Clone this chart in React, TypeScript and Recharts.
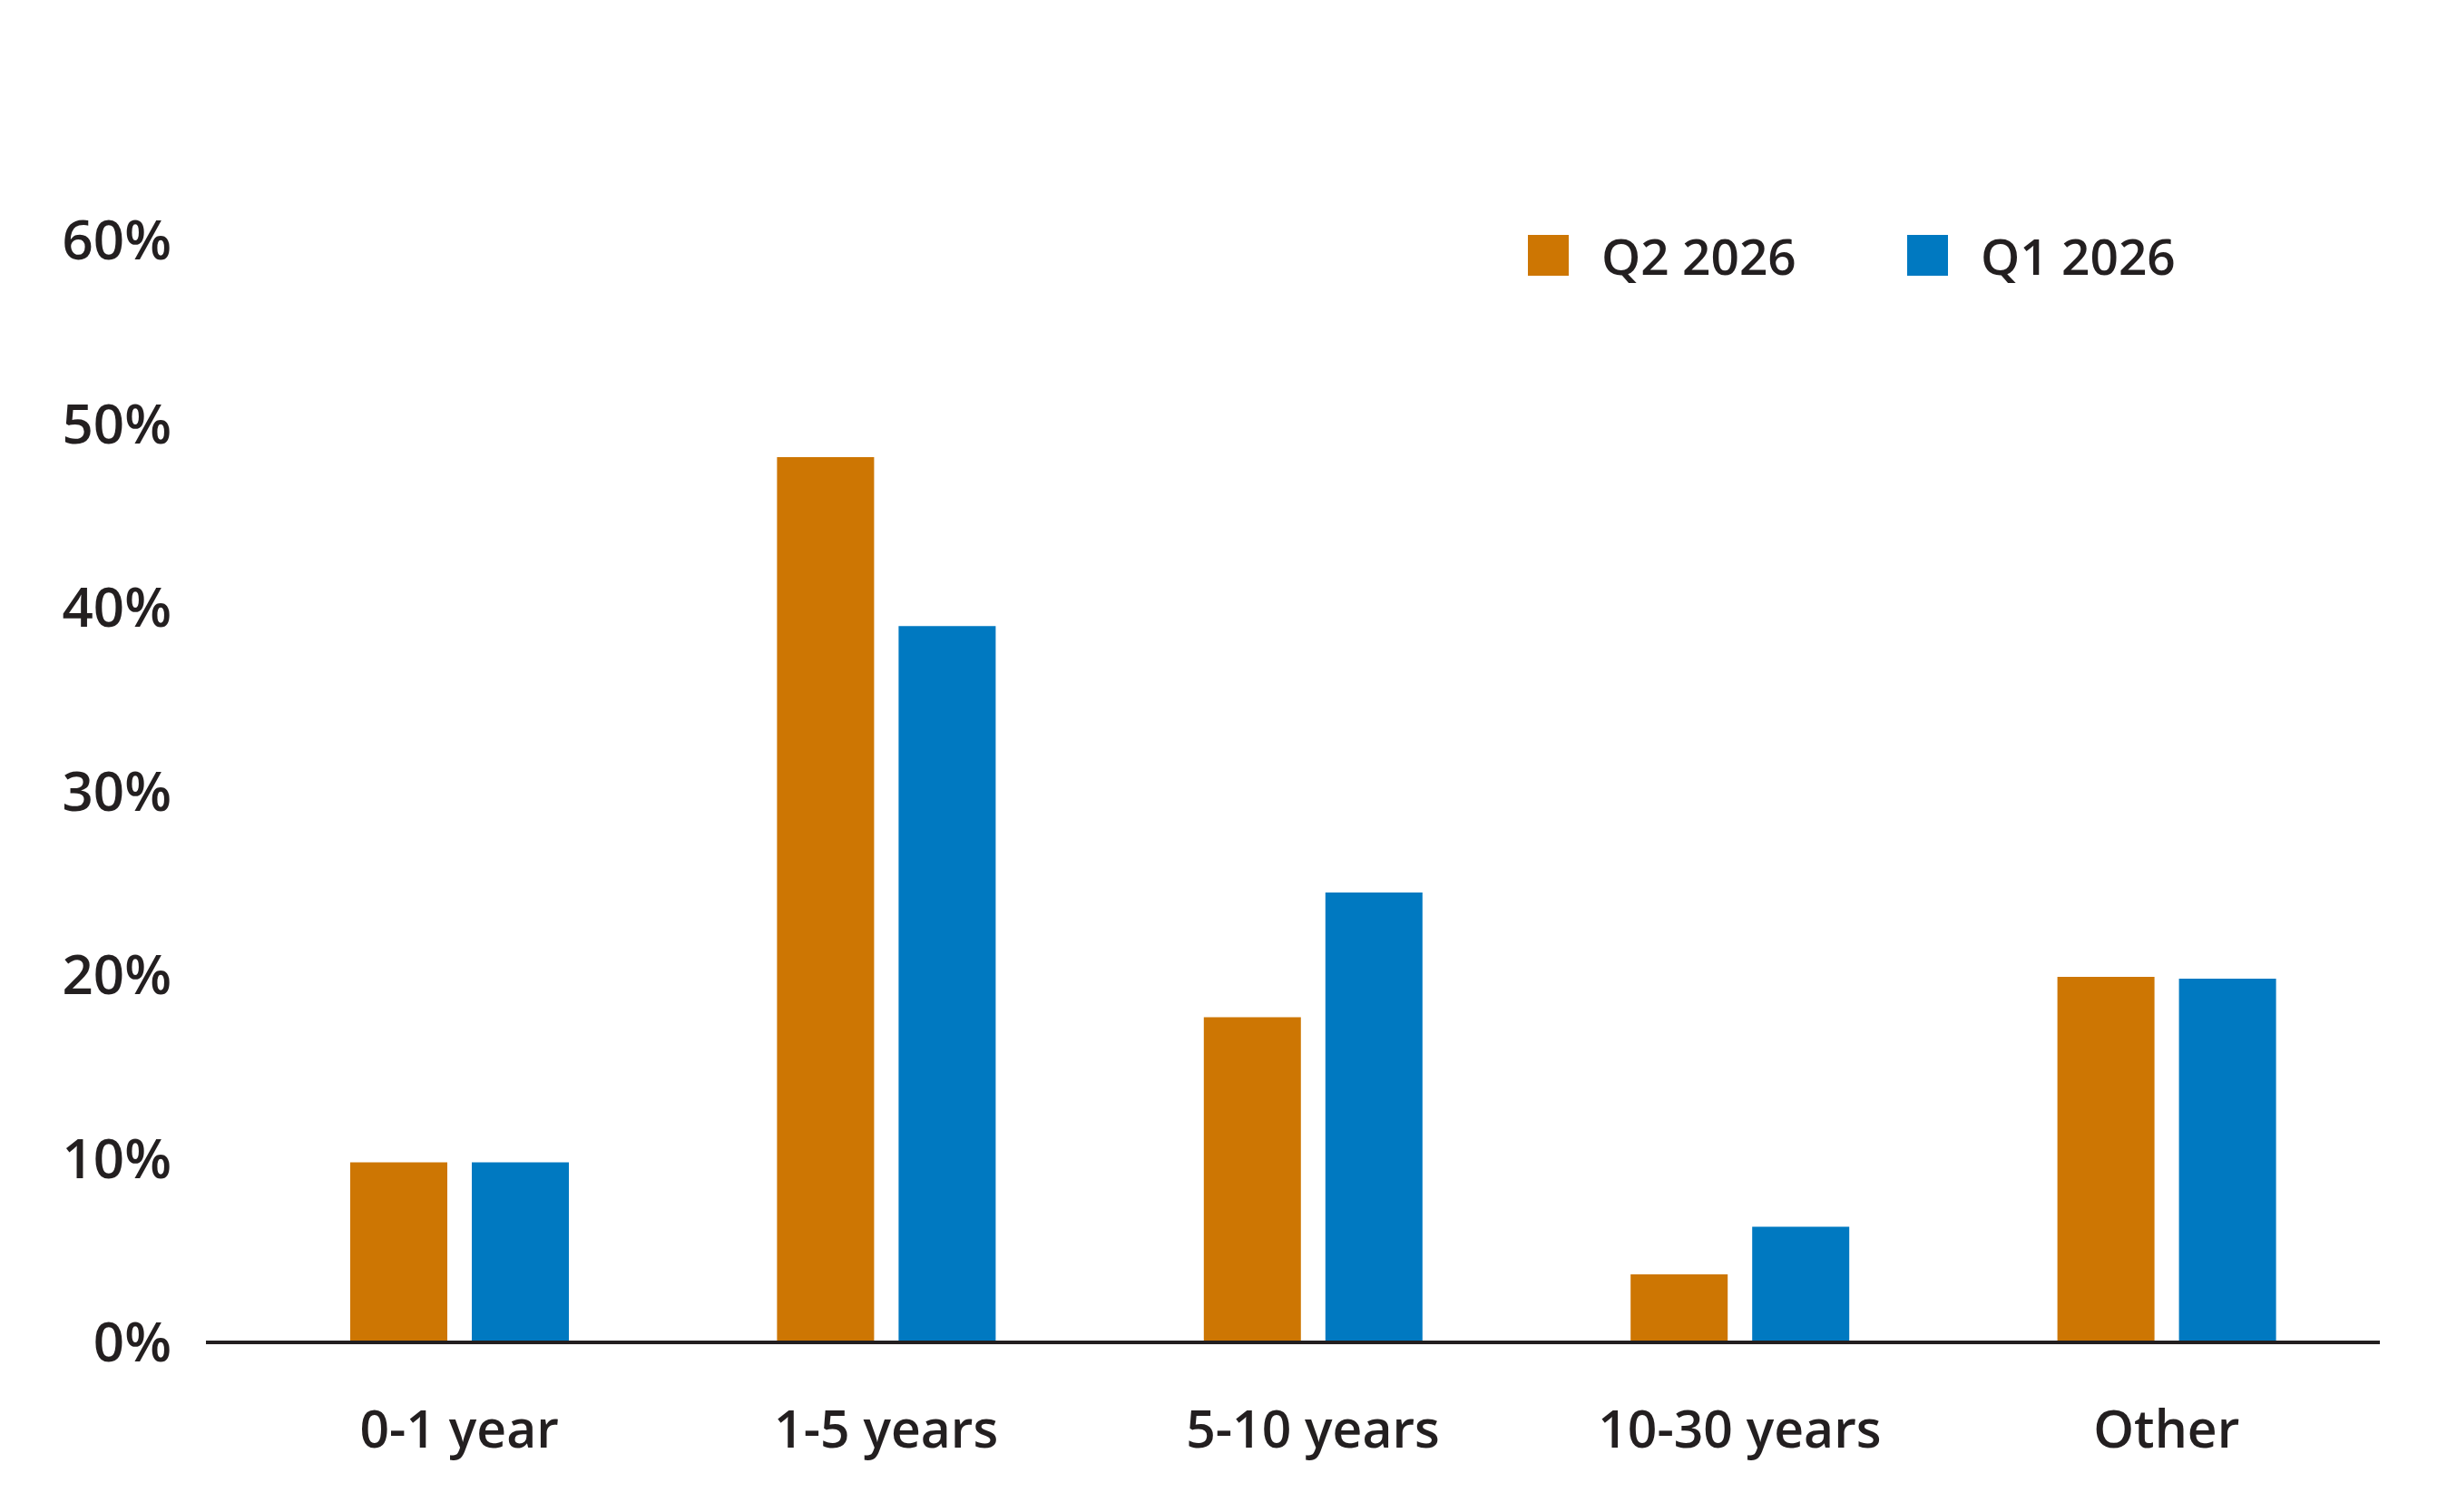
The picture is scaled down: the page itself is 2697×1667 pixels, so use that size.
import { Bar, BarChart, XAxis, YAxis, Legend } from "recharts"

const categories = ["0-1 year", "1-5 years", "5-10 years", "10-30 years", "Other"]
const q2Values = [9.8, 48.2, 17.7, 3.7, 19.9]
const q1Values = [9.8, 39.0, 24.5, 6.3, 19.8]
const yTicks = [0, 10, 20, 30, 40, 50, 60]

const series = [
  { key: "q2", name: "Q2 2026", color: "#CD7603" },
  { key: "q1", name: "Q1 2026", color: "#0079C1" },
]

const data = categories.map((name, i) => ({
  name,
  q2: q2Values[i],
  q1: q1Values[i],
}))

const FONT = "'Open Sans', 'Noto Sans', sans-serif"
const INK = "#231F20"

function LegendContent() {
  return (
    <div style={{ display: "flex", alignItems: "center", fontFamily: FONT }}>
      {series.map((s, i) => (
        <div
          key={s.key}
          style={{
            display: "flex",
            alignItems: "center",
            width: i === 0 ? 418 : "auto",
          }}
        >
          <div style={{ width: 45, height: 45, background: s.color, marginRight: 36 }} />
          <span style={{ fontSize: 55, fontWeight: 600, color: INK, lineHeight: 1, whiteSpace: "nowrap" }}>
            {s.name}
          </span>
        </div>
      ))}
    </div>
  )
}

export default function App() {
  return (
    <div style={{ margin: -8 }}>
      <BarChart
        width={2697}
        height={1667}
        data={data}
        margin={{ top: 265, right: 74, bottom: 4, left: 0 }}
        barSize={107}
        barGap={27}
      >
        <XAxis
          dataKey="name"
          padding={{ left: 44, right: 0 }}
          axisLine={{ stroke: INK, strokeWidth: 4 }}
          tickLine={false}
          tickSize={0}
          tickMargin={76}
          height={128}
          interval={0}
          tick={{ fill: INK, fontSize: 57, fontWeight: 600, fontFamily: FONT }}
        />
        <YAxis
          width={227}
          domain={[0, 60]}
          ticks={yTicks}
          axisLine={false}
          tickLine={false}
          tickSize={0}
          tickMargin={38}
          tickFormatter={(v) => `${v}%`}
          tick={{ fill: INK, fontSize: 60, fontWeight: 600, fontFamily: FONT }}
        />
        <Legend
          content={<LegendContent />}
          wrapperStyle={{ position: "absolute", top: 254, left: 1684, width: "auto" }}
        />
        {series.map((s) => (
          <Bar key={s.key} dataKey={s.key} name={s.name} fill={s.color} isAnimationActive={false} />
        ))}
      </BarChart>
    </div>
  )
}
